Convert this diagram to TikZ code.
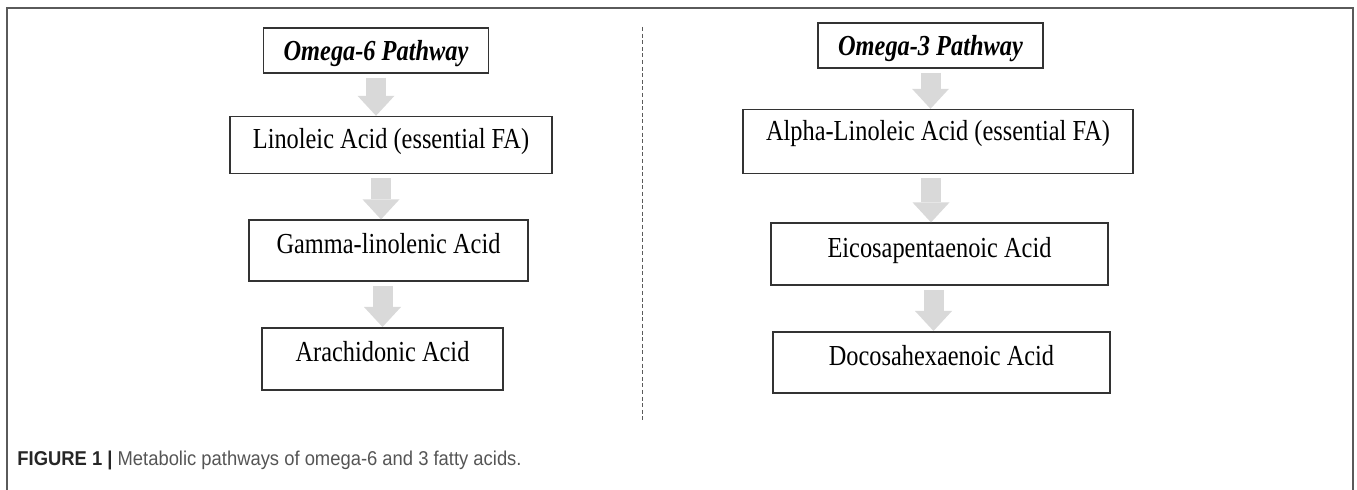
\documentclass[tikz,border=0pt]{standalone}
\usepackage{fontspec}
\setmainfont{Liberation Serif}[FakeStretch=0.84]
\newfontfamily\capfont{Liberation Sans}[FakeStretch=0.92]
\usepackage{tikz}
\usetikzlibrary{arrows.meta, positioning}
\definecolor{framegray}{RGB}{90,90,90}
\definecolor{arrowgray}{RGB}{217,217,217}
\definecolor{capgray}{RGB}{85,85,85}

\begin{document}
\begin{tikzpicture}[
  box/.style={draw=black!80, line width=0.8pt, inner sep=0pt, align=center, font=\fontsize{14.5}{17}\selectfont, text height=9.6pt, text depth=6.6pt},
  head/.style={box, font=\fontsize{14.5}{17}\selectfont\bfseries\itshape, text depth=0pt, minimum width=112.5pt, minimum height=22.5pt},
  arr/.style={-{Triangle[width=18.5pt, length=10pt, line width=0pt]}, line width=10pt, arrowgray, shorten <=2pt}
]
  \useasboundingbox (0,0) rectangle (678.5pt,-245pt);
  \draw[framegray, line width=0.75pt] (3.5pt,-245pt) |- (676.5pt,-4pt) -- (676.5pt,-245pt);

  % omega-6 side
  \node[head] (o6) at (188pt,-25.25pt) {Omega-6 Pathway};
  \node[box, minimum width=161pt, minimum height=28.5pt, below=21pt of o6, xshift=7.5pt] (la) {Linoleic Acid (essential FA)};
  \node[box, minimum width=139.5pt, minimum height=30.5pt, below=22.5pt of la, xshift=-1.25pt] (gla) {Gamma-linolenic Acid};
  \node[box, minimum width=120.5pt, minimum height=31pt, below=22.5pt of gla, xshift=-3pt] (aa) {Arachidonic Acid};

  \draw[arr] (o6.south) -- (o6.south |- la.north);
  \draw[arr] ([xshift=-5pt]la.south) -- ([xshift=-5pt]la.south |- gla.north);
  \draw[arr] (gla.south -| aa.north) -- (aa.north);

  % omega-3 side
  \node[head] (o3) at (465.25pt,-22.75pt) {Omega-3 Pathway};
  \node[box, minimum width=195pt, minimum height=32pt, text depth=10.6pt, below=20pt of o3, xshift=3.75pt] (ala) {Alpha-Linoleic Acid (essential FA)};
  \node[box, minimum width=168.5pt, minimum height=31pt, below=24pt of ala, xshift=0.75pt] (epa) {Eicosapentaenoic Acid};
  \node[box, minimum width=168.5pt, minimum height=30.5pt, below=22.5pt of epa, xshift=1pt] (dha) {Docosahexaenoic Acid};

  \draw[arr] (o3.south) -- (o3.south |- ala.north);
  \draw[arr] ([xshift=-3.5pt]ala.south) -- ([xshift=-3.5pt]ala.south |- epa.north);
  \draw[arr] ([xshift=-3pt]epa.south) -- ([xshift=-3pt]epa.south |- dha.north);

  % divider
  \draw[framegray, line width=0.5pt, dash pattern=on 2pt off 1.3pt] (321pt,-13.5pt) -- (321pt,-211pt);

  \node[anchor=base west, inner sep=0pt, font=\capfont\fontsize{10}{12}\selectfont, text=capgray] (cap) at (8.5pt,-233pt) {\textbf{\color{black!85}FIGURE 1 |} Metabolic pathways of omega-6 and 3 fatty acids.};
\end{tikzpicture}
\end{document}
